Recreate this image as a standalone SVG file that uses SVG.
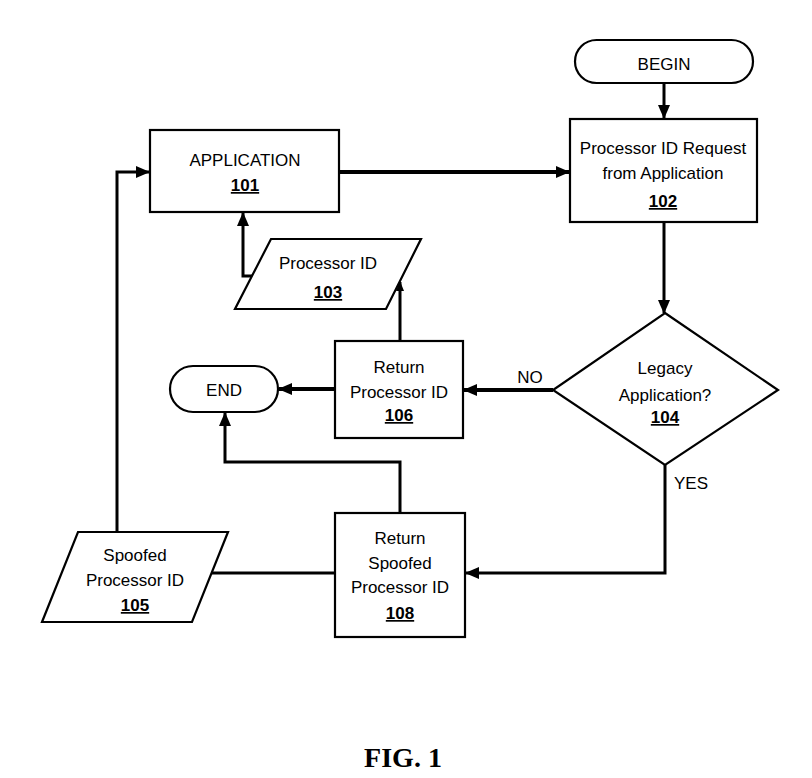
<svg xmlns="http://www.w3.org/2000/svg" width="812" height="778" viewBox="0 0 812 778">
<style>
  .shape { fill: #fff; stroke: #000; stroke-width: 2.2; }
  .t { font-family: "Liberation Sans", Arial, sans-serif; font-size: 17px; fill: #000; text-anchor: middle; }
  .n { text-decoration: underline; font-weight: bold; }
  .c { fill: none; stroke: #000; stroke-width: 3; }
  .thick { stroke-width: 4; }
  .fig { font-family: "Liberation Serif", "Times New Roman", serif; font-size: 28px; font-weight: bold; text-anchor: middle; fill: #000; }
</style>
<defs>
  <marker id="arr" markerUnits="userSpaceOnUse" markerWidth="14" markerHeight="12" refX="13" refY="6" orient="auto">
    <path d="M0,0 L14,6 L0,12 Z" fill="#000"/>
  </marker>
  <marker id="arrs" markerUnits="userSpaceOnUse" markerWidth="10" markerHeight="8" refX="9" refY="4" orient="auto">
    <path d="M0,0 L10,4 L0,8 Z" fill="#000"/>
  </marker>
</defs>
<rect width="812" height="778" fill="#fff"/>

<g id="connectors">
  <line class="c thick" x1="339" y1="172" x2="569" y2="172" marker-end="url(#arr)"/>
  <line class="c" x1="664" y1="83" x2="664" y2="118" marker-end="url(#arr)"/>
  <line class="c" x1="664" y1="222" x2="664" y2="313" marker-end="url(#arr)"/>
  <line class="c thick" x1="553" y1="390" x2="464" y2="390" marker-end="url(#arr)"/>
  <line class="c thick" x1="335" y1="389" x2="279" y2="389" marker-end="url(#arr)"/>
  <line class="c" x1="400" y1="341" x2="400" y2="282" marker-end="url(#arrs)"/>
  <polyline class="c" points="252,276 243,276 243,213" marker-end="url(#arr)"/>
  <polyline class="c" points="665,465 665,573 466,573" marker-end="url(#arr)"/>
  <polyline class="c" points="400,513 400,462 225,462 225,413" marker-end="url(#arr)"/>
  <line class="c" x1="335" y1="573" x2="211" y2="573"/>
  <polyline class="c" points="117,532 117,172 149,172" marker-end="url(#arr)"/>
  <text class="t" x="530" y="383">NO</text>
  <text class="t" x="691" y="489">YES</text>
</g>

<g id="node-begin">
  <rect class="shape" x="575" y="40" width="178" height="43" rx="21.5"/>
  <text class="t" x="664" y="70">BEGIN</text>
</g>

<g id="node-101">
  <rect class="shape" x="150" y="130" width="189" height="82"/>
  <text class="t" x="245" y="166">APPLICATION</text>
  <text class="t n" x="245" y="191">101</text>
</g>

<g id="node-102">
  <rect class="shape" x="570" y="119" width="187" height="103"/>
  <text class="t" x="663" y="154">Processor ID Request</text>
  <text class="t" x="663" y="179">from Application</text>
  <text class="t n" x="663" y="207">102</text>
</g>

<g id="node-103">
  <polygon class="shape" points="271,239 421,239 386,309 235,309"/>
  <text class="t" x="328" y="269">Processor ID</text>
  <text class="t n" x="328" y="298">103</text>
</g>

<g id="node-104">
  <polygon class="shape" points="665,313 778,390 665,465 553,390"/>
  <text class="t" x="665" y="374">Legacy</text>
  <text class="t" x="665" y="401">Application?</text>
  <text class="t n" x="665" y="423">104</text>
</g>

<g id="node-106">
  <rect class="shape" x="335" y="341" width="128" height="97"/>
  <text class="t" x="399" y="373">Return</text>
  <text class="t" x="399" y="398">Processor ID</text>
  <text class="t n" x="399" y="421">106</text>
</g>

<g id="node-end">
  <rect class="shape" x="170" y="366" width="108" height="46" rx="23"/>
  <text class="t" x="224" y="396">END</text>
</g>

<g id="node-108">
  <rect class="shape" x="335" y="513" width="130" height="124"/>
  <text class="t" x="400" y="544">Return</text>
  <text class="t" x="400" y="569">Spoofed</text>
  <text class="t" x="400" y="593">Processor ID</text>
  <text class="t n" x="400" y="619">108</text>
</g>

<g id="node-105">
  <polygon class="shape" points="78,532 228,532 192,622 42,622"/>
  <text class="t" x="135" y="561">Spoofed</text>
  <text class="t" x="135" y="586">Processor ID</text>
  <text class="t n" x="135" y="611">105</text>
</g>

<text class="fig" x="403" y="767">FIG. 1</text>
</svg>
